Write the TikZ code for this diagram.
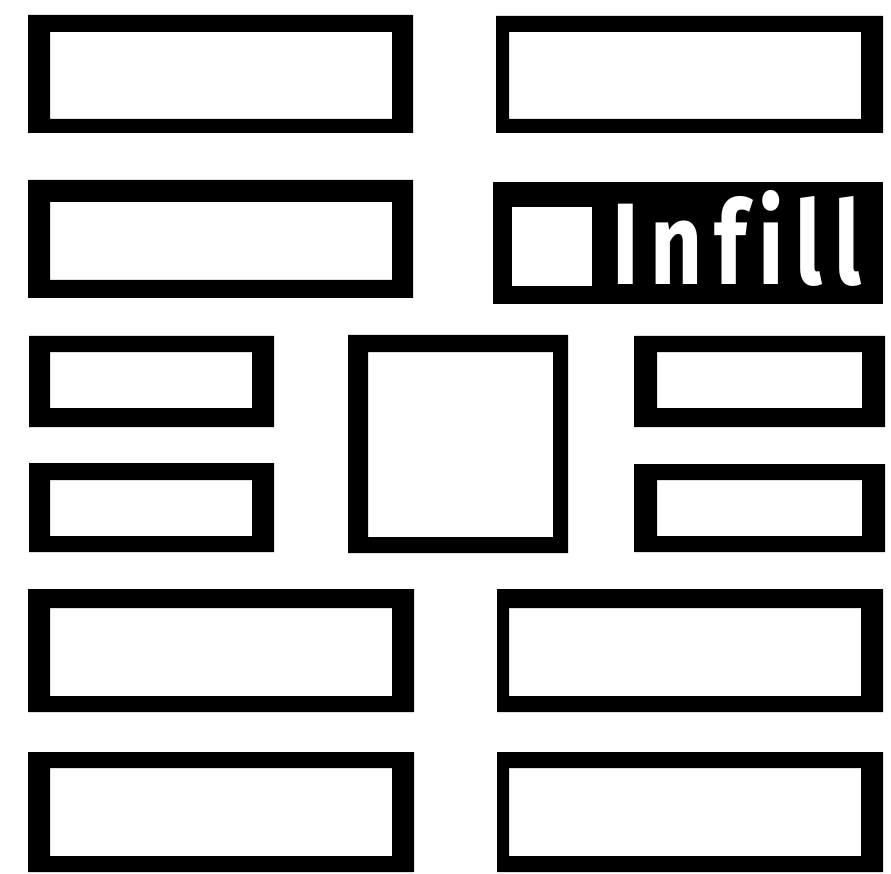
\documentclass[tikz,border=0pt]{standalone}
\usepackage{fontspec}
\newfontfamily\infillfont[LetterSpace=13,Ligatures=CommonOff]{Fira Sans}
\begin{document}
\begin{tikzpicture}[x=1pt,y=-1pt]
\useasboundingbox (0,0) rectangle (891,874);
\tikzset{frame/.style={fill=black,even odd rule}}
% row 1
\fill[frame] (28,15) rectangle (413,133) (50,32) rectangle (392,119);
\fill[frame] (496,16) rectangle (883,133) (509,32) rectangle (861,119);
% row 2
\fill[frame] (28,180) rectangle (413,298) (50,202) rectangle (392,280);
\fill (493,182) rectangle (883,304);
\fill[white] (512,207) rectangle (592,286);
\node[anchor=base west, inner sep=0, text=white, font=\infillfont\bfseries\fontsize{116}{116}\selectfont] (infill) at (612,285) {\scalebox{0.78}[1]{Infill}};
% rows 3-4
\fill[frame] (29,336) rectangle (274,427) (50,352) rectangle (252,408);
\fill[frame] (29,463) rectangle (274,552) (50,480) rectangle (252,536);
\fill[frame] (348,335) rectangle (568,553) (368,352) rectangle (553,537);
\fill[frame] (634,336) rectangle (885,427) (657,352) rectangle (862,408);
\fill[frame] (634,464) rectangle (885,552) (657,480) rectangle (862,536);
% rows 5-6
\fill[frame] (28,589) rectangle (414,712) (50,608) rectangle (392,696);
\fill[frame] (497,589) rectangle (883,712) (509,608) rectangle (861,696);
\fill[frame] (28,752) rectangle (414,872) (50,768) rectangle (392,856);
\fill[frame] (497,752) rectangle (883,872) (509,768) rectangle (861,856);
\end{tikzpicture}
\end{document}
